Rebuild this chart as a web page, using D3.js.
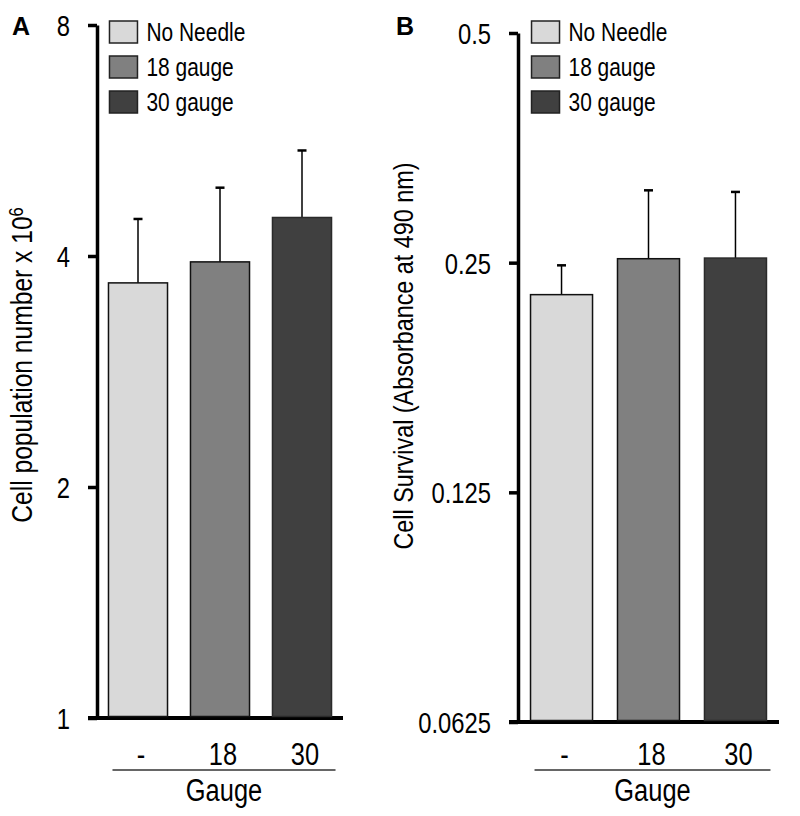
<!DOCTYPE html>
<html>
<head>
<meta charset="utf-8">
<script src="https://cdn.jsdelivr.net/npm/d3@7"></script>
<style>
  html, body { margin: 0; padding: 0; background: #fff; }
  svg { display: block; }
  text { font-family: "Liberation Sans Narrow", "Arial Narrow", "Liberation Sans", Arial, sans-serif; fill: #000; }
</style>
</head>
<body>
<svg id="chart" width="800" height="816"></svg>
<script>
// ---- data ----
const categories = ["No Needle", "18 gauge", "30 gauge"];
const xTickLabels = ["-", "18", "30"];
const barColors = ["#d9d9d9", "#808080", "#404040"];

const cellPopMean = [3.69, 3.93, 4.49];
const cellPopErr = [0.78, 0.98, 1.00];
const cellPopTicks = [1, 2, 4, 8];

const survivalMean = [0.227, 0.253, 0.2535];
const survivalErr = [0.021, 0.058, 0.056];
const survivalTicks = [0.0625, 0.125, 0.25, 0.5];

const svg = d3.select("#chart");
const NARROW = 0.82;

// condense text horizontally (reference uses a narrow sans face)
function narrow(sel) {
  sel.each(function () {
    const w = this.getComputedTextLength();
    d3.select(this).attr("textLength", w * NARROW).attr("lengthAdjust", "spacingAndGlyphs");
  });
}

function drawPanel(opt) {
  const g = svg.append("g");
  const y = d3.scaleLog().base(2).domain(opt.domain).range([opt.bottom, opt.top]);
  const x = d3.scaleBand().domain(categories).range([opt.left, opt.right])
    .paddingInner(opt.padIn).paddingOuter(opt.padOut);

  // y axis
  const yAxis = d3.axisLeft(y).tickValues(opt.ticks).tickFormat(opt.fmt)
    .tickSize(9).tickSizeOuter(0).tickPadding(18);
  const ya = g.append("g").attr("transform", `translate(${opt.left},0)`).call(yAxis);
  ya.select(".domain").attr("stroke", "#000").attr("stroke-width", 3.5);
  ya.selectAll(".tick line").attr("stroke", "#000").attr("stroke-width", 3.5);
  ya.selectAll(".tick text").style("font-size", "29px").attr("dy", "0.36em").call(narrow);

  // x baseline
  g.append("line")
    .attr("x1", opt.left - 9).attr("x2", opt.right)
    .attr("y1", y(opt.domain[0])).attr("y2", y(opt.domain[0]))
    .attr("stroke", "#000").attr("stroke-width", 4);

  const data = categories.map((c, i) => ({ c, i, m: opt.mean[i], e: opt.err[i] }));

  // error bars (drawn before bars)
  const eb = g.append("g").selectAll("g").data(data).join("g");
  eb.append("line")
    .attr("x1", d => x(d.c) + x.bandwidth() / 2).attr("x2", d => x(d.c) + x.bandwidth() / 2)
    .attr("y1", d => y(d.m)).attr("y2", d => y(d.m + d.e))
    .attr("stroke", "#000").attr("stroke-width", 1.5);
  eb.append("line")
    .attr("x1", d => x(d.c) + x.bandwidth() / 2 - 4.5).attr("x2", d => x(d.c) + x.bandwidth() / 2 + 4.5)
    .attr("y1", d => y(d.m + d.e)).attr("y2", d => y(d.m + d.e))
    .attr("stroke", "#000").attr("stroke-width", 2.5);

  // bars
  g.append("g").selectAll("rect").data(data).join("rect")
    .attr("x", d => x(d.c)).attr("width", x.bandwidth())
    .attr("y", d => y(d.m)).attr("height", d => y(opt.domain[0]) - y(d.m) - 1.5)
    .attr("fill", d => barColors[d.i])
    .attr("stroke", d => d.i === 2 ? "#2a2a2a" : "#111").attr("stroke-width", 1.5);

  // x category labels
  g.append("g").selectAll("text").data(data).join("text")
    .attr("x", d => x(d.c) + x.bandwidth() / 2 + 3)
    .attr("y", 765)
    .attr("text-anchor", "middle")
    .style("font-size", "31px")
    .text(d => xTickLabels[d.i])
    .call(narrow);

  // underline
  const lx1 = x(categories[0]) + 4;
  const lx2 = x(categories[2]) + x.bandwidth() + 4;
  g.append("line").attr("x1", lx1).attr("x2", lx2).attr("y1", 770).attr("y2", 770)
    .attr("stroke", "#333").attr("stroke-width", 1.5);
  g.append("text").attr("x", (lx1 + lx2) / 2).attr("y", 801)
    .attr("text-anchor", "middle").style("font-size", "31px").text("Gauge").call(narrow);

  // y title
  const yt = g.append("text")
    .attr("transform", `translate(${opt.titleX},${opt.titleY}) rotate(-90)`)
    .attr("text-anchor", "middle").style("font-size", opt.titleSize + "px");
  opt.title(yt);
  narrow(yt);

  // panel letter
  g.append("text").attr("x", opt.letterX).attr("y", 35)
    .style("font-family", "'Liberation Sans', Arial, sans-serif")
    .style("font-weight", "bold").style("font-size", "25px").text(opt.letter);

  // legend
  const lg = g.append("g").selectAll("g").data(categories).join("g")
    .attr("transform", (d, i) => `translate(${x(categories[0]) + 1},${21 + i * 35})`);
  lg.append("rect").attr("width", 28).attr("height", 22)
    .attr("fill", (d, i) => barColors[i]).attr("stroke", "#222").attr("stroke-width", 1.5);
  lg.append("text").attr("x", 37).attr("y", 11).attr("dy", "0.36em")
    .style("font-size", "25.5px").text(d => d).call(narrow);
}

drawPanel({
  domain: [1, 8], ticks: cellPopTicks, fmt: d3.format("d"),
  top: 25, bottom: 718, left: 97, right: 343, padIn: 0.28, padOut: 0.14,
  mean: cellPopMean, err: cellPopErr,
  titleX: 32, titleY: 365, titleSize: 30, letter: "A", letterX: 12,
  title: t => {
    t.append("tspan").text("Cell population number x 10");
    t.append("tspan").attr("dy", "-0.45em").style("font-size", "20px").text("6");
  }
});

drawPanel({
  domain: [0.0625, 0.5], ticks: survivalTicks, fmt: d => String(d),
  top: 33, bottom: 722, left: 518, right: 779, padIn: 0.287, padOut: 0.144,
  mean: survivalMean, err: survivalErr,
  titleX: 413, titleY: 356, titleSize: 28.5, letter: "B", letterX: 396,
  title: t => { t.text("Cell Survival (Absorbance at 490 nm)"); }
});
</script>
</body>
</html>
